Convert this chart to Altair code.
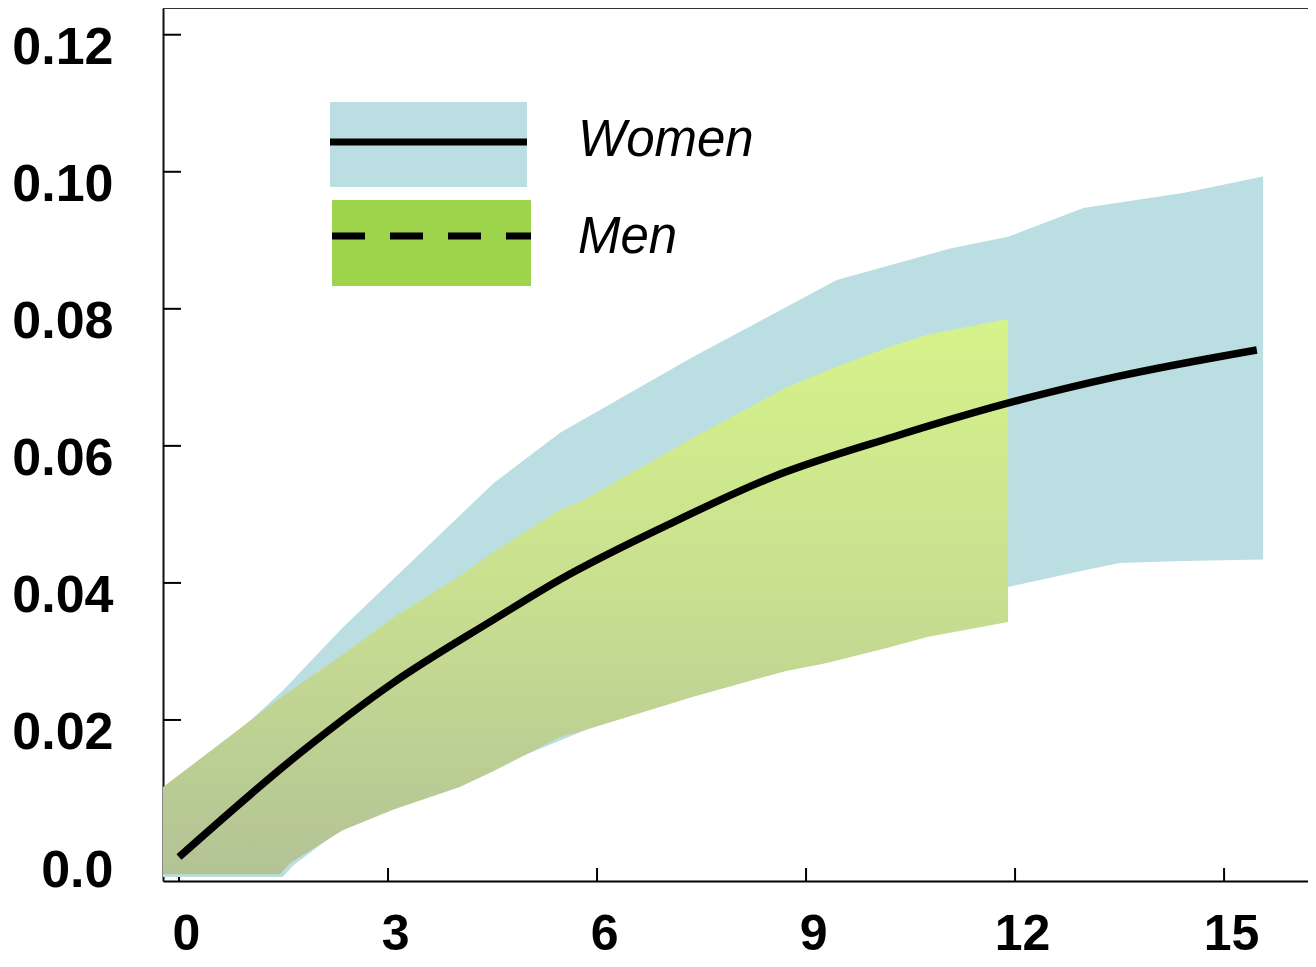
import altair as alt
import pandas as pd

# ---- data ----
women_x     = [-0.23, 0.83, 1.49, 1.64, 2.35, 3.07, 4.51, 5.47, 7.38, 9.44, 11.07, 11.9, 12.98, 13.5, 14.41, 15.56]
women_upper = [0.0100, 0.0181, 0.0243, 0.0259, 0.0335, 0.0405, 0.0545, 0.0619, 0.0730, 0.0842, 0.0888, 0.0905, 0.0947, 0.0955, 0.0969, 0.0993]
women_lower = [-0.0029, -0.0029, -0.0029, -0.0012, 0.0042, 0.0072, 0.0130, 0.0170, 0.0250, 0.0310, 0.0375, 0.0394, 0.0418, 0.0429, 0.0432, 0.0434]

men_x     = [-0.23, 1.45, 1.59, 2.35, 3.07, 4.03, 4.51, 5.47, 5.76, 7.38, 8.73, 9.3, 10.16, 10.74, 11.9]
men_upper = [0.0102, 0.0232, 0.0242, 0.0295, 0.0349, 0.0410, 0.0445, 0.0507, 0.0518, 0.0612, 0.0686, 0.0710, 0.0743, 0.0762, 0.0785]
men_lower = [-0.0025, -0.0025, -0.0009, 0.0039, 0.0069, 0.0102, 0.0125, 0.0175, 0.0183, 0.0234, 0.0272, 0.0283, 0.0305, 0.0321, 0.0343]

line_x = [0, 1.74, 3.07, 4.51, 5.47, 7.0, 8.53, 10.25, 12.07, 13.46, 15.47]
line_y = [0, 0.0152, 0.0254, 0.0346, 0.0405, 0.0484, 0.0555, 0.0613, 0.0667, 0.0701, 0.0740]

x_ticks = [0, 3, 6, 9, 12, 15]
y_ticks = [0, 0.02, 0.04, 0.06, 0.08, 0.10, 0.12]

legend_labels = ["Women", "Men"]

W, H = 1145, 873
FONT = "Liberation Sans"
BLUE = "#bbdee2"

women = pd.DataFrame({"x": women_x, "lo": women_lower, "hi": women_upper})
men = pd.DataFrame({"x": men_x, "lo": men_lower, "hi": men_upper})
line = pd.DataFrame({"x": line_x, "y": line_y})
xt = pd.DataFrame({"x": x_ticks})
yt = pd.DataFrame({"y": y_ticks})

xscale = alt.Scale(domain=[-0.23, -0.23 + W / 69.67], nice=False, zero=False)
yscale = alt.Scale(domain=[-0.0035, 0.1239], nice=False, zero=False)

xaxis = alt.Axis(values=x_ticks, ticks=False, grid=False, title=None,
                 domainColor="black", domainWidth=2,
                 labelFont=FONT, labelFontWeight="bold", labelFontSize=50,
                 labelColor="black", labelPadding=28, labelOffset=7)
yaxis = alt.Axis(values=y_ticks, ticks=False, grid=False, title=None,
                 domainColor="#111", domainWidth=2,
                 labelFont=FONT, labelFontWeight="bold", labelFontSize=52,
                 labelColor="black", labelPadding=50, labelOffset=13,
                 labelExpr="datum.value == 0 ? '0.0' : format(datum.value, '.2f')")


def X(f):
    return alt.X(f, type="quantitative", scale=xscale, axis=xaxis)


def Y(f):
    return alt.Y(f, type="quantitative", scale=yscale, axis=yaxis)


ytick_layer = alt.Chart(yt).mark_rule(color="black", strokeWidth=2).encode(
    y=Y("y"), x=alt.value(0), x2=alt.value(18))
xtick_layer = alt.Chart(xt).mark_rule(color="black", strokeWidth=2).encode(
    x=X("x"), y=alt.value(H), y2=alt.value(H - 13))

women_area = alt.Chart(women).mark_area(color=BLUE, opacity=1).encode(
    x=X("x"), y=Y("lo"), y2="hi")

green_grad = alt.Gradient(
    gradient="linear", x1=0, x2=0, y1=0, y2=1,
    stops=[alt.GradientStop(color="#d6f38a", offset=0),
           alt.GradientStop(color="#c8df90", offset=0.5),
           alt.GradientStop(color="#b3c396", offset=1)])
men_area = alt.Chart(men).mark_area(color=green_grad, opacity=1).encode(
    x=X("x"), y=Y("lo"), y2="hi")

line_layer = alt.Chart(line).mark_line(color="black", strokeWidth=7.5, interpolate="monotone").encode(
    x=X("x"), y=Y("y"))

one = alt.Data(values=[{"a": 1}])
top_border = alt.Chart(one).mark_rule(color="#333", strokeWidth=2).encode(
    x=alt.value(0), x2=alt.value(W), y=alt.value(0))

# legend
leg_w_box = alt.Chart(one).mark_rect(color=BLUE).encode(
    x=alt.value(167), x2=alt.value(364), y=alt.value(94), y2=alt.value(179))
leg_w_line = alt.Chart(one).mark_rule(color="black", strokeWidth=7).encode(
    x=alt.value(167), x2=alt.value(364), y=alt.value(134))
leg_m_box = alt.Chart(one).mark_rect(color="#9dd44b").encode(
    x=alt.value(169), x2=alt.value(368), y=alt.value(192), y2=alt.value(278))
leg_m_line = alt.Chart(one).mark_rule(color="black", strokeWidth=7, strokeDash=[33, 25]).encode(
    x=alt.value(169), x2=alt.value(368), y=alt.value(228))
leg_w_text = alt.Chart(alt.Data(values=[{"t": legend_labels[0]}])).mark_text(
    font=FONT, fontSize=51, fontStyle="italic", align="left", baseline="middle", color="black"
).encode(text="t:N", x=alt.value(415), y=alt.value(133))
leg_m_text = alt.Chart(alt.Data(values=[{"t": legend_labels[1]}])).mark_text(
    font=FONT, fontSize=51, fontStyle="italic", align="left", baseline="middle", color="black"
).encode(text="t:N", x=alt.value(415), y=alt.value(230))

chart = alt.layer(
    ytick_layer, xtick_layer, women_area, men_area, line_layer, top_border,
    leg_w_box, leg_w_line, leg_m_box, leg_m_line, leg_w_text, leg_m_text
).properties(
    width=W, height=H,
    autosize=alt.AutoSizeParams(type="none"),
    padding={"left": 155, "top": 0, "right": 0, "bottom": 78},
).configure_view(stroke=None).configure(background="white")

chart.save("out.html", embed_options={"renderer": "svg", "actions": False})
